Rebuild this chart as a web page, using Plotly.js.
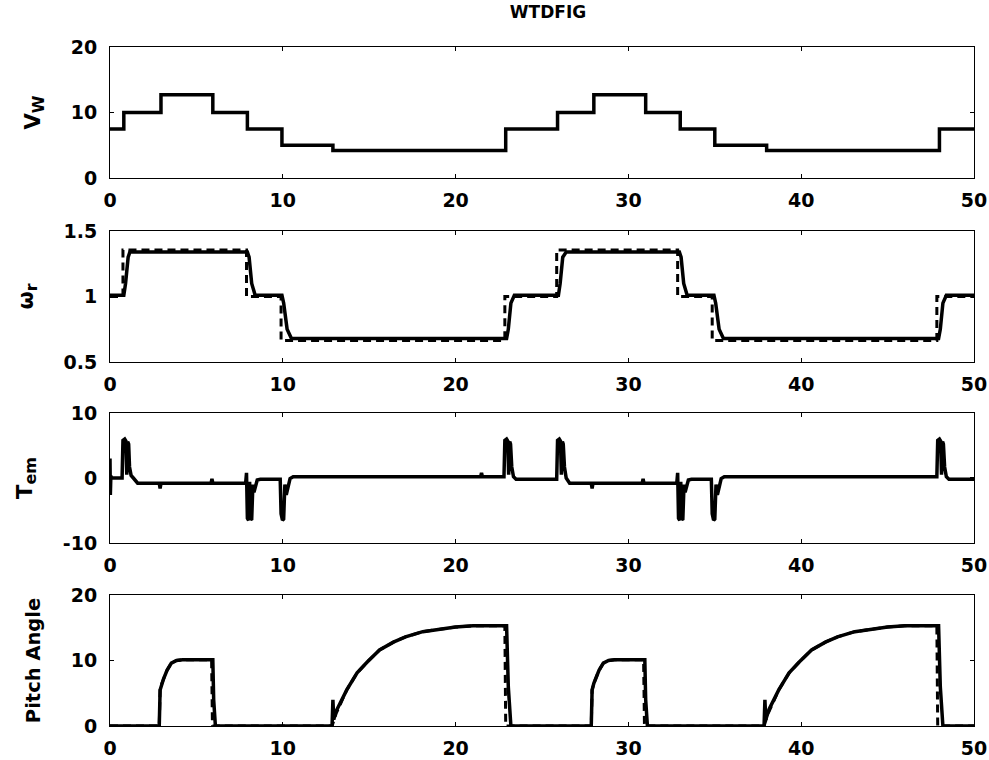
<!DOCTYPE html>
<html>
<head>
<meta charset="utf-8">
<script src="https://cdn.plot.ly/plotly-3.0.1.min.js"></script>
<style>html,body{margin:0;padding:0;background:#fff;}#chart{width:989px;height:760px;}</style>
</head>
<body>
<div id="chart"></div>
<script>
// ---- Panel 1: wind speed V_W (step profile) ----
const windT = [0, 0.8, 2.95, 5.95, 7.95, 9.95, 12.9, 22.9, 25.9, 28.0, 31.0, 33.0, 35.0, 38.0, 48.0, 50];
const windV = [7.5, 10, 12.7, 10, 7.5, 5, 4.2, 7.5, 10, 12.7, 10, 7.5, 5, 4.2, 7.5, 7.5];

// ---- Panel 2: rotor speed omega_r (solid = actual, dashed = reference) ----
const omT = [0, 0.8, 0.9, 1.05, 1.15, 7.95, 8.05, 8.2, 8.4, 9.95, 10.05, 10.25, 10.5,
             22.95, 23.05, 23.2, 23.4, 25.95, 26.05, 26.2, 26.4, 32.95, 33.05, 33.2, 33.4,
             34.95, 35.05, 35.25, 35.5, 47.95, 48.05, 48.2, 48.4, 50];
const omV = [1.01, 1.01, 1.1, 1.3, 1.34, 1.34, 1.3, 1.1, 1.01, 1.01, 0.95, 0.75, 0.68,
             0.68, 0.75, 0.95, 1.01, 1.01, 1.1, 1.3, 1.34, 1.34, 1.3, 1.1, 1.01,
             1.01, 0.95, 0.75, 0.68, 0.68, 0.75, 0.95, 1.01, 1.01];
const omRefT = [0, 0.75, 7.9, 9.9, 22.85, 25.85, 32.85, 34.85, 47.85, 50];
const omRefV = [1.0, 1.355, 1.0, 0.665, 1.0, 1.355, 1.0, 0.665, 1.0, 1.0];

// ---- Panel 3: electromagnetic torque T_em ----
const temT = [0, 0.02, 0.05, 0.1, 0.7,
  0.75, 0.85, 0.92, 0.97, 1.02, 1.08, 1.13, 1.22, 1.35, 1.6,
  2.85, 2.9, 2.95, 5.85, 5.9, 5.95,
  7.85, 7.9, 7.95, 8.02, 8.08, 8.14, 8.2, 8.27, 8.33, 8.42, 8.52, 8.7,
  9.85, 9.9, 9.98, 10.05, 10.12, 10.2, 10.3, 10.42, 10.6,
  21.45, 21.5, 21.55,
  22.8, 22.85, 22.95, 23.02, 23.07, 23.13, 23.18, 23.25, 23.35, 23.5,
  25.85, 25.9, 26.0, 26.07, 26.12, 26.18, 26.23, 26.3, 26.4, 26.6,
  27.85, 27.9, 27.95, 30.8, 30.85, 30.9,
  32.8, 32.85, 32.9, 32.97, 33.03, 33.09, 33.15, 33.22, 33.28, 33.37, 33.47, 33.65,
  34.8, 34.85, 34.93, 35.0, 35.07, 35.15, 35.25, 35.37, 35.55,
  47.85, 47.9, 48.0, 48.07, 48.12, 48.18, 48.23, 48.3, 48.4, 48.55, 50];
const temV = [3.0, -2.6, 0.3, 0, 0,
  5.8, 6.0, 5.7, 0.5, 5.6, 5.2, 1.7, 0.4, 0, -0.8,
  -0.8, -1.6, -0.8, -0.8, -0.15, -0.8,
  -0.8, 0.8, -6.2, -6.5, -0.6, -6.4, -6.3, -1.0, -2.2, -1.2, -0.3, -0.2,
  -0.2, -5.5, -6.5, -6.3, -1.0, -2.6, -1.2, -0.1, 0.2,
  0.2, 0.8, 0.2,
  0.2, 5.8, 6.0, 5.7, 0.5, 5.6, 5.2, 1.7, 0.2, -0.2,
  -0.2, 5.8, 6.0, 5.7, 0.5, 5.6, 5.2, 1.7, 0, -0.8,
  -0.8, -1.6, -0.8, -0.8, -0.15, -0.8,
  -0.8, 0.8, -6.2, -6.5, -0.6, -6.4, -6.3, -1.0, -2.2, -1.2, -0.3, -0.2,
  -0.2, -5.5, -6.5, -6.3, -1.0, -2.6, -1.2, -0.1, 0.2,
  0.2, 5.8, 6.0, 5.7, 0.5, 5.6, 5.2, 1.7, 0.2, -0.2, -0.2];

// ---- Panel 4: pitch angle (solid = actual, dashed = reference) ----
const pitchT = [0, 2.85, 2.9, 3.0, 3.1, 3.3, 3.55, 3.85, 4.2, 5.95, 6.0, 6.1,
  12.85, 12.9, 12.95, 13.05, 13.15, 13.7, 14.3, 14.9, 15.6, 16.4, 17.1, 18.1, 19.1, 20.0, 21.0, 22.95, 23.05, 23.2,
  27.85, 27.9, 28.0, 28.1, 28.3, 28.55, 28.85, 29.2, 30.95, 31.0, 31.1,
  37.85, 37.9, 37.95, 38.05, 38.15, 38.7, 39.3, 39.9, 40.6, 41.4, 42.1, 43.1, 44.1, 45.0, 46.0, 47.95, 48.05, 48.2, 50];
const pitchV = [0, 0, 5.5, 6.5, 7.2, 8.5, 9.6, 10.0, 10.1, 10.1, 4.0, 0,
  0, 4.0, 1.0, 2.0, 2.6, 5.5, 8.1, 9.8, 11.6, 12.8, 13.6, 14.4, 14.8, 15.1, 15.3, 15.3, 6.0, 0,
  0, 5.5, 6.5, 7.2, 8.5, 9.6, 10.0, 10.1, 10.1, 4.0, 0,
  0, 4.0, 1.0, 2.0, 2.6, 5.5, 8.1, 9.8, 11.6, 12.8, 13.6, 14.4, 14.8, 15.1, 15.3, 15.3, 6.0, 0, 0];
const pitchRefT = [0, 2.85, 2.9, 3.0, 3.3, 3.55, 3.85, 4.2, 5.88, 5.93,
  12.85, 13.1, 13.7, 14.3, 14.9, 15.6, 16.4, 17.1, 18.1, 19.1, 20.0, 21.0, 22.85, 22.9,
  27.85, 27.9, 28.0, 28.3, 28.55, 28.85, 29.2, 30.88, 30.93,
  37.85, 38.1, 38.7, 39.3, 39.9, 40.6, 41.4, 42.1, 43.1, 44.1, 45.0, 46.0, 47.85, 47.9, 50];
const pitchRefV = [0, 0, 5.5, 6.5, 8.5, 9.6, 10.0, 10.1, 10.1, 0,
  0, 2.0, 5.5, 8.1, 9.8, 11.6, 12.8, 13.6, 14.4, 14.8, 15.1, 15.3, 15.3, 0,
  0, 5.5, 6.5, 8.5, 9.6, 10.0, 10.1, 10.1, 0,
  0, 2.0, 5.5, 8.1, 9.8, 11.6, 12.8, 13.6, 14.4, 14.8, 15.1, 15.3, 15.3, 0, 0];

const xTicks = [0, 10, 20, 30, 40, 50];
const yLabels = ['V<sub><span style="font-size:16px">W</span></sub>',
                 '\u03c9<sub><span style="font-size:16px">r</span></sub>',
                 'T<sub><span style="font-size:16px">em</span></sub>',
                 'Pitch Angle'];
const yTitleSizes = [21, 21, 21, 19.5];
const yRanges = [[0, 20], [0.5, 1.5], [-10, 10], [0, 20]];
const yTicks = [[0, 10, 20], [0.5, 1, 1.5], [-10, 0, 10], [0, 10, 20]];
const yTickText = [['0', '10', '20'], ['0.5', '1', '1.5'], ['-10', '0', '10'], ['0', '10', '20']];

const FONT = 'DejaVu Sans, Arial, sans-serif';
const solid = {color: '#000', width: 3.5};
const dashed = {color: '#000', width: 3, dash: '8px,5px'};

const traces = [
  {x: windT, y: windV, mode: 'lines', line: Object.assign({shape: 'hv'}, solid), xaxis: 'x', yaxis: 'y'},
  {x: omRefT, y: omRefV, mode: 'lines', line: Object.assign({shape: 'hv'}, dashed), xaxis: 'x2', yaxis: 'y2'},
  {x: omT, y: omV, mode: 'lines', line: solid, xaxis: 'x2', yaxis: 'y2'},
  {x: temT, y: temV, mode: 'lines', line: solid, xaxis: 'x3', yaxis: 'y3'},
  {x: pitchRefT, y: pitchRefV, mode: 'lines', line: dashed, xaxis: 'x4', yaxis: 'y4'},
  {x: pitchT, y: pitchV, mode: 'lines', line: solid, xaxis: 'x4', yaxis: 'y4'}
];

const domains = [[0.807, 1], [0.536, 0.729], [0.2695, 0.461], [0, 0.193]];
const layout = {
  width: 989, height: 760,
  margin: {l: 110, r: 15, t: 47, b: 34},
  paper_bgcolor: '#fff', plot_bgcolor: '#fff',
  showlegend: false,
  font: {family: FONT, color: '#000', size: 19, weight: 'bold'},
  title: {text: 'WTDFIG', x: 0.507, xref: 'paper', xanchor: 'center', y: 0.984, yref: 'container', yanchor: 'middle',
          font: {family: FONT, size: 17, weight: 'bold', color: '#000'}}
};
for (let i = 0; i < 4; i++) {
  const s = i === 0 ? '' : String(i + 1);
  layout['xaxis' + s] = {
    domain: [0, 1], anchor: 'y' + s, range: [0, 50], tickvals: xTicks, ticktext: xTicks.map(String),
    ticks: 'inside', ticklen: 4, tickwidth: 1, tickcolor: '#000', mirror: 'allticks',
    showline: true, linecolor: '#000', linewidth: 1, showgrid: false, zeroline: false,
    ticklabelstandoff: 5,
    tickfont: {family: FONT, size: 19, weight: 'bold', color: '#000'}
  };
  layout['yaxis' + s] = {
    domain: domains[i], anchor: 'x' + s, range: yRanges[i], tickvals: yTicks[i], ticktext: yTickText[i],
    ticks: 'inside', ticklen: 4, tickwidth: 1, tickcolor: '#000', mirror: 'allticks',
    showline: true, linecolor: '#000', linewidth: 1, showgrid: false, zeroline: false,
    ticklabelstandoff: 8,
    tickfont: {family: FONT, size: 19, weight: 'bold', color: '#000'},
    title: {text: yLabels[i], standoff: 24, font: {family: FONT, size: yTitleSizes[i], weight: 'bold', color: '#000'}}
  };
}
Plotly.newPlot('chart', traces, layout, {displayModeBar: false, staticPlot: true});
</script>
</body>
</html>
